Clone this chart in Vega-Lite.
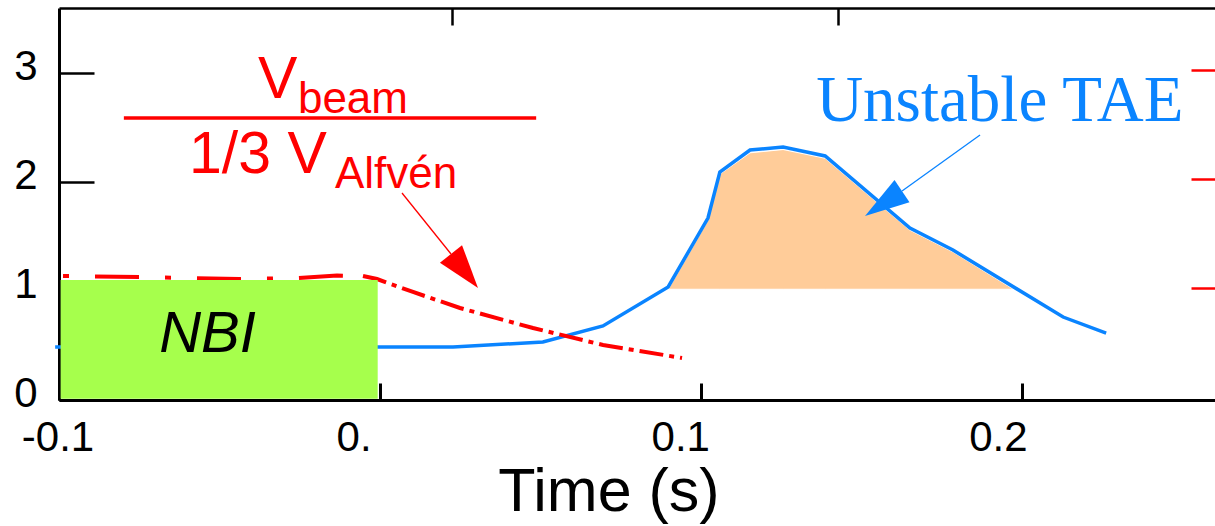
{
  "$schema": "https://vega.github.io/schema/vega-lite/v6.json",
  "width": 1156,
  "height": 392,
  "autosize": {"type": "none"},
  "padding": {"left": 59, "top": 8, "right": 0, "bottom": 126},
  "background": "white",
  "config": {
    "view": {"stroke": null},
    "axis": {"labelFont": "Liberation Sans", "titleFont": "Liberation Sans", "grid": false}
  },
  "resolve": {"axis": {"x": "independent", "y": "independent"}},
  "layer": [
    {
      "data": {"values": [
        {"t": 0.0900, "v": 1.03},
        {"t": 0.1021, "v": 1.65},
        {"t": 0.1056, "v": 2.07},
        {"t": 0.1152, "v": 2.27},
        {"t": 0.1255, "v": 2.30},
        {"t": 0.1386, "v": 2.22},
        {"t": 0.1650, "v": 1.56},
        {"t": 0.1784, "v": 1.36},
        {"t": 0.1971, "v": 1.02}
      ]},
      "mark": {"type": "area", "color": "#FFCC99", "stroke": "white", "strokeWidth": 1, "opacity": 1},
      "encoding": {
        "x": {"field": "t", "type": "quantitative", "scale": {"domain": [-0.1, 0.26], "nice": false, "zero": false}, "axis": null},
        "y": {"field": "v", "type": "quantitative", "scale": {"domain": [0, 3.6], "nice": false, "zero": false}, "axis": null},
        "y2": {"datum": 1.017}
      }
    },
    {
      "data": {"values": [
        {"t": -0.1012, "v": 0.487},
        {"t": 0.0000, "v": 0.487},
        {"t": 0.0227, "v": 0.487},
        {"t": 0.0507, "v": 0.533},
        {"t": 0.0694, "v": 0.680},
        {"t": 0.0897, "v": 1.038},
        {"t": 0.1021, "v": 1.671},
        {"t": 0.1058, "v": 2.094},
        {"t": 0.1152, "v": 2.296},
        {"t": 0.1255, "v": 2.323},
        {"t": 0.1386, "v": 2.241},
        {"t": 0.1650, "v": 1.579},
        {"t": 0.1784, "v": 1.377},
        {"t": 0.2127, "v": 0.762},
        {"t": 0.2261, "v": 0.615}
      ]},
      "mark": {"type": "line", "color": "#0A84FF", "strokeWidth": 3.5},
      "encoding": {
        "x": {"field": "t", "type": "quantitative", "scale": {"domain": [-0.1, 0.26], "nice": false, "zero": false},
          "axis": {"orient": "top", "values": [0.0224, 0.1426], "labels": false, "title": null, "tickSize": -17, "tickWidth": 2.5, "tickColor": "black", "domainColor": "black", "domainWidth": 2.5}},
        "y": {"field": "v", "type": "quantitative", "scale": {"domain": [0, 3.6], "nice": false, "zero": false},
          "axis": {"orient": "right", "values": [1.028, 2.029, 3.03], "labels": false, "title": null, "domain": false, "tickSize": -24, "tickWidth": 2.5, "tickColor": "#FF0000"}}
      }
    },
    {
      "data": {"name": "red", "values": [
        {"t": -0.09875, "v": 1.139},
        {"t": -0.07415, "v": 1.129},
        {"t": -0.04394, "v": 1.111},
        {"t": -0.02588, "v": 1.120},
        {"t": -0.01342, "v": 1.143},
        {"t": -0.00533, "v": 1.139},
        {"t": -0.00097, "v": 1.111},
        {"t": 0.01024, "v": 0.992},
        {"t": 0.02488, "v": 0.845},
        {"t": 0.04762, "v": 0.661},
        {"t": 0.06942, "v": 0.505},
        {"t": 0.09402, "v": 0.386}
      ]},
      "layer": [
        {
          "transform": [{"filter": "datum.t <= -0.005"}],
          "mark": {"type": "line", "color": "#FF0000", "strokeWidth": 4, "strokeDash": [6, 26, 44, 26]},
          "encoding": {
            "x": {"field": "t", "type": "quantitative", "scale": {"domain": [-0.1, 0.26], "nice": false, "zero": false}, "axis": null},
            "y": {"field": "v", "type": "quantitative", "scale": {"domain": [0, 3.6], "nice": false, "zero": false}, "axis": null}
          }
        },
        {
          "transform": [{"filter": "datum.t >= -0.006"}],
          "mark": {"type": "line", "color": "#FF0000", "strokeWidth": 4, "strokeDash": [24, 6, 5, 6]},
          "encoding": {
            "x": {"field": "t", "type": "quantitative", "scale": {"domain": [-0.1, 0.26], "nice": false, "zero": false}, "axis": null},
            "y": {"field": "v", "type": "quantitative", "scale": {"domain": [0, 3.6], "nice": false, "zero": false}, "axis": null}
          }
        }
      ]
    },
    {
      "data": {"values": [{"t": -0.0995, "t2": -0.00075, "v": 0.012, "v2": 1.102}]},
      "mark": {"type": "rect", "color": "#A6FF4C"},
      "encoding": {
        "x": {"field": "t", "type": "quantitative", "scale": {"domain": [-0.1, 0.26], "nice": false, "zero": false},
          "axis": {"orient": "bottom", "values": [-0.1, 0, 0.1, 0.2], "title": "Time (s)", "titleFontSize": 61, "titleFontWeight": "normal", "titleColor": "black", "titleX": 549.5, "titleY": 110, "titleBaseline": "alphabetic", "titleAlign": "center",
            "labelFontSize": 42, "labelColor": "black", "labelBaseline": "alphabetic", "labelPadding": 67, "labelFlush": false, "labelOverlap": false, "labelBound": false,
            "labelExpr": "datum.value == 0 ? '0.' : (datum.value < 0 ? '-' : '') + format(abs(datum.value), '.1f')",
            "labelOffset": {"expr": "datum.value < -0.05 ? -1.5 : (datum.value == 0 ? -26.5 : (datum.value < 0.15 ? -21 : -24.5))"},
            "tickSize": -17, "tickWidth": 3, "tickColor": "black", "domainColor": "black", "domainWidth": 3}},
        "x2": {"field": "t2"},
        "y": {"field": "v", "type": "quantitative", "scale": {"domain": [0, 3.6], "nice": false, "zero": false},
          "axis": {"orient": "left", "values": [0, 1, 2, 3], "title": null, "format": "d", "labelFontSize": 42, "labelColor": "black", "labelBaseline": "alphabetic", "labelAlign": "right", "labelOffset": 6.5, "labelPadding": 57, "labelFlush": false, "labelOverlap": false, "labelBound": false,
            "tickSize": -35, "tickWidth": 2.5, "tickColor": "black", "domainColor": "black", "domainWidth": 3}},
        "y2": {"field": "v2"}
      }
    },
    {
      "data": {"values": [{"t": -0.05375, "v": 0.441, "label": "NBI"}]},
      "mark": {"type": "text", "font": "Liberation Sans", "fontSize": 58, "fontStyle": "italic", "color": "black", "align": "center", "baseline": "alphabetic"},
      "encoding": {
        "x": {"field": "t", "type": "quantitative", "axis": null},
        "y": {"field": "v", "type": "quantitative", "axis": null},
        "text": {"field": "label"}
      }
    },
    {
      "data": {"values": [
        {"t": -0.0380, "v": 2.773, "label": "V"},
        {"t": -0.0595, "v": 2.084, "label": "1/3 V"}
      ]},
      "mark": {"type": "text", "font": "Liberation Sans", "fontSize": 59, "color": "#FF0000", "align": "left", "baseline": "alphabetic"},
      "encoding": {
        "x": {"field": "t", "type": "quantitative", "axis": null},
        "y": {"field": "v", "type": "quantitative", "axis": null},
        "text": {"field": "label"}
      }
    },
    {
      "data": {"values": [
        {"t": -0.0256, "v": 2.635, "label": "beam"},
        {"t": -0.01405, "v": 1.947, "label": "Alfvén"}
      ]},
      "mark": {"type": "text", "font": "Liberation Sans", "fontSize": 44, "color": "#FF0000", "align": "left", "baseline": "alphabetic"},
      "encoding": {
        "x": {"field": "t", "type": "quantitative", "axis": null},
        "y": {"field": "v", "type": "quantitative", "axis": null},
        "text": {"field": "label"}
      }
    },
    {
      "data": {"values": [{"t": -0.0798, "t2": 0.0486, "v": 2.590}]},
      "mark": {"type": "rule", "color": "#FF0000", "strokeWidth": 3.5},
      "encoding": {
        "x": {"field": "t", "type": "quantitative", "axis": null},
        "x2": {"field": "t2"},
        "y": {"field": "v", "type": "quantitative", "axis": null}
      }
    },
    {
      "data": {"values": [{"t": 0.00682, "v": 1.901, "t2": 0.02208, "v2": 1.341}]},
      "mark": {"type": "rule", "color": "#FF0000", "strokeWidth": 1.3},
      "encoding": {
        "x": {"field": "t", "type": "quantitative", "axis": null},
        "x2": {"field": "t2"},
        "y": {"field": "v", "type": "quantitative", "axis": null},
        "y2": {"field": "v2"}
      }
    },
    {
      "data": {"values": [{"t": 0.02628, "v": 1.185}]},
      "mark": {"type": "point", "shape": "M0,-1L0.65,1L-0.65,1Z", "filled": true, "color": "#FF0000", "opacity": 1, "size": 1884, "angle": 141.5, "strokeWidth": 0},
      "encoding": {
        "x": {"field": "t", "type": "quantitative", "axis": null},
        "y": {"field": "v", "type": "quantitative", "axis": null}
      }
    },
    {
      "data": {"values": [{"t": 0.18683, "v": 2.433, "t2": 0.16254, "v2": 1.919}]},
      "mark": {"type": "rule", "color": "#0A84FF", "strokeWidth": 1.3},
      "encoding": {
        "x": {"field": "t", "type": "quantitative", "axis": null},
        "x2": {"field": "t2"},
        "y": {"field": "v", "type": "quantitative", "axis": null},
        "y2": {"field": "v2"}
      }
    },
    {
      "data": {"values": [{"t": 0.15677, "v": 1.804}]},
      "mark": {"type": "point", "shape": "M0,-1L0.6,1L-0.6,1Z", "filled": true, "color": "#0A84FF", "opacity": 1, "size": 1990, "angle": 236, "strokeWidth": 0},
      "encoding": {
        "x": {"field": "t", "type": "quantitative", "axis": null},
        "y": {"field": "v", "type": "quantitative", "axis": null}
      }
    },
    {
      "data": {"values": [{"t": 0.1358, "v": 2.562, "label": "Unstable TAE"}]},
      "mark": {"type": "text", "font": "Liberation Serif", "fontSize": 65, "color": "#0A84FF", "align": "left", "baseline": "alphabetic"},
      "encoding": {
        "x": {"field": "t", "type": "quantitative", "axis": null},
        "y": {"field": "v", "type": "quantitative", "axis": null},
        "text": {"field": "label"}
      }
    }
  ]
}
